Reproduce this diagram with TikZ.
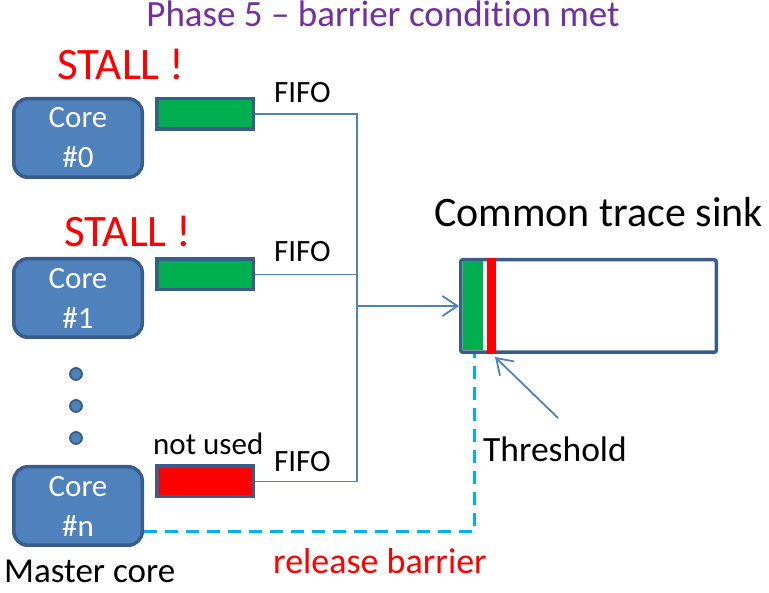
\documentclass[tikz,border=0pt]{standalone}
\usepackage{fontspec}
\setmainfont{Carlito}[Ligatures={NoCommon}]
\usetikzlibrary{arrows.meta}
\definecolor{accent}{HTML}{4F81BD}
\definecolor{accentdark}{HTML}{385D8A}
\definecolor{fifogreen}{HTML}{00B050}
\definecolor{fifored}{HTML}{FF0000}
\definecolor{barrierblue}{HTML}{00B0F0}
\definecolor{titlepurple}{HTML}{7030A0}
\begin{document}
\begin{tikzpicture}[x=1pt,y=-1pt,
  corebox/.style={draw=accentdark, line width=3.5pt, fill=accent,
    rounded corners=14pt, minimum width=128.5pt, minimum height=78.5pt,
    text=white, align=center, inner sep=0pt,
    font=\fontsize{31}{40}\selectfont},
  fifobox/.style={draw=accentdark, line width=3.5pt, minimum width=96.5pt,
    minimum height=30.5pt, inner sep=0pt},
  sinkbox/.style={draw=accentdark, line width=3.5pt, fill=white,
    rounded corners=2pt, minimum width=255.5pt, minimum height=92.5pt,
    inner sep=0pt},
  link/.style={draw=accent, line width=1.8pt},
  barb/.style={link, -{Straight Barb[length=15pt,width=20pt,line width=1.8pt]}},
  barrier/.style={draw=barrierblue, line width=3pt, dash pattern=on 13pt off 8pt},
  lbl/.style={inner sep=0pt, anchor=base west},
  dot/.style={circle, fill=accent, draw=accentdark, line width=1.8pt,
    minimum size=12pt, inner sep=0pt}
]
\useasboundingbox (0,0) rectangle (769,593);

% title
\node[inner sep=0pt, anchor=base, text=titlepurple, font=\fontsize{37}{44}\selectfont]
  (title) at (383,27) {Phase 5 – barrier condition met};

% cores
\node[corebox] (c0) at (78,138) {Core\\\#0};
\node[corebox] (c1) at (78,298) {Core\\\#1};
\node[corebox] (cn) at (78,506) {Core\\\#n};

% stall markers
\node[lbl, text=fifored, font=\fontsize{45}{54}\selectfont] (s0) at (57,80) {STALL !};
\node[lbl, text=fifored, font=\fontsize{45}{54}\selectfont] (s1) at (64,247) {STALL !};

% ellipsis between cores
\node[dot] (d1) at (76,374) {};
\node[dot] (d2) at (76,406) {};
\node[dot] (d3) at (76,438) {};

% per-core FIFOs
\node[fifobox, fill=fifogreen] (f0) at (205,114) {};
\node[fifobox, fill=fifogreen] (f1) at (205,274.5) {};
\node[fifobox, fill=fifored] (fn) at (205,481.5) {};

\node[lbl, font=\fontsize{31}{37}\selectfont] (l0) at (274,103) {FIFO};
\node[lbl, font=\fontsize{31}{37}\selectfont] (l1) at (274,262) {FIFO};
\node[lbl, font=\fontsize{31}{37}\selectfont] (ln) at (274,472) {FIFO};
\node[lbl, font=\fontsize{31}{37}\selectfont] (nu) at (153,455) {not used};

% common sink
\node[sinkbox] (sink) at (588.5,306) {};
\fill[fifogreen] (463,261.5) rectangle (483,350.5);
\fill[fifored] (487,258) rectangle (496,354);
\node[lbl, font=\fontsize{42}{50}\selectfont] (sinklbl) at (434,227) {Common trace sink};

% trace bus
\coordinate (bus) at (357,306);
\draw[link] (f0.east) -| (bus);
\draw[link] (fn.east) -| (bus);
\draw[link] (f1.east) -- (f1.east -| bus);
\draw[barb] (bus) -- (sink.west);

% threshold marker
\coordinate (thtail) at (558,418);
\coordinate (thtip) at (495,357);
\draw[barb] (thtail) -- (thtip);
\node[lbl, font=\fontsize{35.5}{42}\selectfont] (th) at (483,462) {Threshold};

% barrier release path
\coordinate (bstart) at (144,532);
\coordinate (bcorner) at (474,532);
\draw[barrier] (bstart) -- (bcorner) -- (bcorner |- sink.south);
\node[lbl, text=fifored, font=\fontsize{36}{43}\selectfont] (rel) at (273,573) {release barrier};
\node[lbl, font=\fontsize{35}{42}\selectfont] (master) at (4,582) {Master core};
\end{tikzpicture}
\end{document}
